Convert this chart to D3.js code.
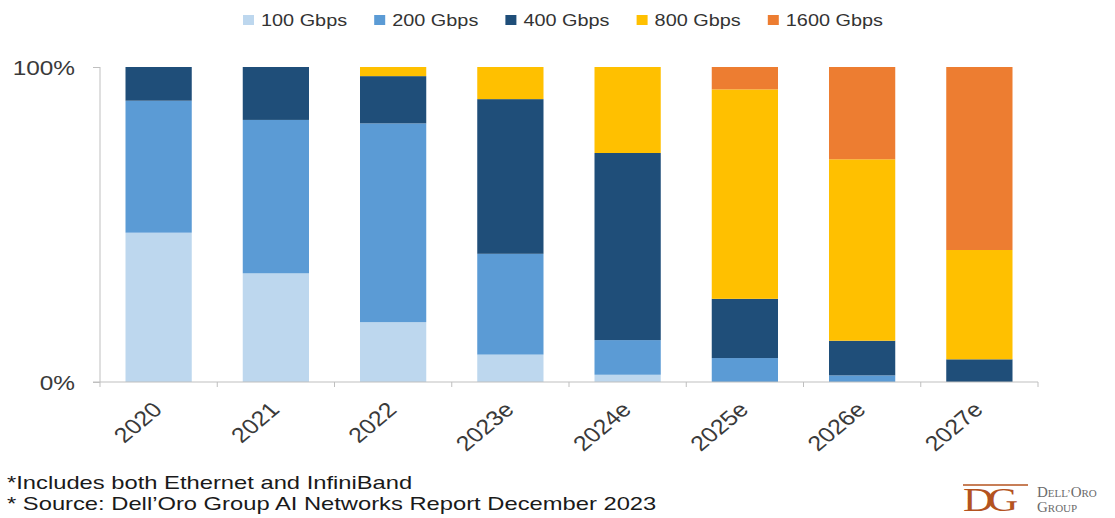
<!DOCTYPE html>
<html>
<head>
<meta charset="utf-8">
<script src="https://cdn.jsdelivr.net/npm/d3@7"></script>
<style>
  body { margin: 0; background: #fff; }
  text { font-family: "Liberation Sans", Arial, sans-serif; }
</style>
</head>
<body>
<div id="chart"></div>
<script>
// categories and series (share of ports, fraction of 1)
const years = ["2020", "2021", "2022", "2023e", "2024e", "2025e", "2026e", "2027e"];
const speeds = ["100 Gbps", "200 Gbps", "400 Gbps", "800 Gbps", "1600 Gbps"];
const g100  = [0.474, 0.345, 0.190, 0.087, 0.023, 0.000, 0.000, 0.000];
const g200  = [0.419, 0.487, 0.631, 0.320, 0.110, 0.076, 0.021, 0.000];
const g400  = [0.107, 0.168, 0.150, 0.491, 0.594, 0.188, 0.110, 0.072];
const g800  = [0.000, 0.000, 0.029, 0.102, 0.273, 0.665, 0.576, 0.347];
const g1600 = [0.000, 0.000, 0.000, 0.000, 0.000, 0.071, 0.293, 0.581];
const yTicks = [0, 1];
const notes = ["*Includes both Ethernet and InfiniBand",
               "* Source: Dell\u2019Oro Group AI Networks Report December 2023"];

const colors = ["#bdd7ee", "#5b9bd5", "#1f4e79", "#ffc000", "#ed7d31"];
const sx = 1.19; // the original picture is stretched sideways

const rows = years.map((y, i) => ({
    year: y,
    "100 Gbps": g100[i], "200 Gbps": g200[i], "400 Gbps": g400[i],
    "800 Gbps": g800[i], "1600 Gbps": g1600[i]
}));

const svg = d3.select("#chart")
    .append("svg")
    .attr("width", 1115)
    .attr("height", 518);

const x = d3.scaleBand()
    .domain(years)
    .range([100, 1038])
    .paddingInner(0.435)
    .paddingOuter(0.2175);

const y = d3.scaleLinear()
    .domain([0, 1])
    .range([382, 67]);

const color = d3.scaleOrdinal().domain(speeds).range(colors);

const stacked = d3.stack().keys(speeds)(rows);

// bars
svg.append("g")
    .selectAll("g")
    .data(stacked)
    .enter()
    .append("g")
    .attr("fill", d => color(d.key))
    .selectAll("rect")
    .data(d => d)
    .enter()
    .append("rect")
    .attr("x", d => x(d.data.year))
    .attr("width", x.bandwidth())
    .attr("y", d => y(d[1]))
    .attr("height", d => y(d[0]) - y(d[1]));

// y axis
const yAxis = svg.append("g")
    .attr("transform", "translate(100,0)")
    .call(d3.axisLeft(y).tickValues(yTicks).tickSize(7).tickFormat(d3.format(".0%")));
yAxis.select(".domain").attr("stroke", "#bfbfbf").attr("d", "M0,67V382");
yAxis.selectAll(".tick line").attr("stroke", "#bfbfbf");
yAxis.selectAll(".tick text")
    .attr("x", 0)
    .attr("dy", "0.36em")
    .attr("transform", `translate(-25,0) scale(${sx},1)`)
    .attr("fill", "#3a3a3a")
    .style("font-size", "20.5px");

// x axis
const xAxis = svg.append("g")
    .attr("transform", "translate(0,382)")
    .call(d3.axisBottom(x).tickSize(0));
xAxis.select(".domain").attr("stroke", "#bfbfbf").attr("d", "M93,0H1038");
xAxis.selectAll(".tick text")
    .attr("y", 0)
    .attr("dy", "0")
    .attr("text-anchor", "end")
    .attr("transform", `translate(5,29) scale(${sx},1) rotate(-45)`)
    .attr("fill", "#3a3a3a")
    .style("font-size", "21px");

const gap = (x.step() - x.bandwidth()) / 2;
const bounds = years.map(c => x(c) - gap).concat([x(years[years.length - 1]) + x.bandwidth() + gap]);
svg.append("g")
    .selectAll("line")
    .data(bounds)
    .enter()
    .append("line")
    .attr("x1", d => d).attr("x2", d => d)
    .attr("y1", 382).attr("y2", 387)
    .attr("stroke", "#bfbfbf");

// legend
const legend = svg.append("g")
    .selectAll("g")
    .data(speeds)
    .enter()
    .append("g")
    .attr("transform", (d, i) => `translate(${243 + i * 131.2},0)`);
legend.append("rect")
    .attr("y", 15)
    .attr("width", 11)
    .attr("height", 10)
    .attr("fill", d => color(d));
legend.append("text")
    .attr("transform", `translate(18,26) scale(${sx},1)`)
    .attr("fill", "#333")
    .style("font-size", "16.7px")
    .text(d => d);

// footnotes
svg.append("g")
    .selectAll("text")
    .data(notes)
    .enter()
    .append("text")
    .attr("transform", (d, i) => `translate(7,${489 + i * 21}) scale(1.25,1)`)
    .attr("fill", "#1a1a1a")
    .style("font-size", "19px")
    .text(d => d);

// logo
const logo = svg.append("g");
logo.append("text")
    .attr("transform", `translate(963,511) scale(1.25,1)`)
    .attr("fill", "#b4531f")
    .style("font-family", "Liberation Serif, DejaVu Serif, serif")
    .style("font-size", "34px")
    .style("letter-spacing", "-5px")
    .text("DG");
logo.append("line")
    .attr("x1", 963).attr("x2", 1028)
    .attr("y1", 485).attr("y2", 485)
    .attr("stroke", "#b4531f").attr("stroke-width", 1.5);
const brand = logo.append("text")
    .attr("fill", "#6b6b6b")
    .style("font-family", "Liberation Serif, DejaVu Serif, serif");
const line1 = brand.append("tspan").attr("x", 1037).attr("y", 497);
line1.append("tspan").style("font-size", "15px").text("D");
line1.append("tspan").style("font-size", "11px").text("ELL\u2019");
line1.append("tspan").style("font-size", "15px").text("O");
line1.append("tspan").style("font-size", "11px").text("RO");
const line2 = brand.append("tspan").attr("x", 1037).attr("y", 512);
line2.append("tspan").style("font-size", "15px").text("G");
line2.append("tspan").style("font-size", "11px").text("ROUP");
</script>
</body>
</html>
